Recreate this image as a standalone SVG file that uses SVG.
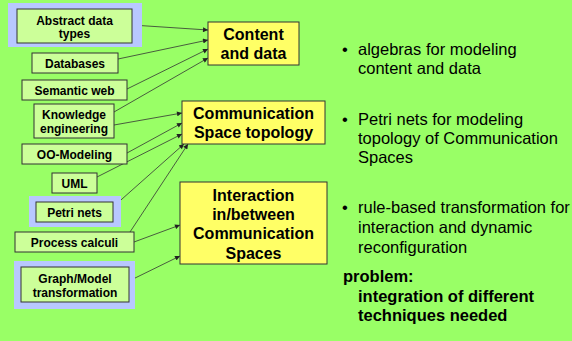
<svg xmlns="http://www.w3.org/2000/svg" width="572" height="341" viewBox="0 0 572 341">
<defs>
<style>
.hl{fill:#B8C8FF;stroke:none}
.src{fill:#CCFF99;stroke:#333333;stroke-width:1}
.tgt{fill:#FFFF66;stroke:#333333;stroke-width:1}
.sl{font-family:"Liberation Sans",Arial,sans-serif;font-weight:bold;font-size:12px;fill:#000;text-anchor:middle}
.tl{font-family:"Liberation Sans",Arial,sans-serif;font-weight:bold;font-size:16px;fill:#000;text-anchor:middle}
.bt{font-family:"Liberation Sans",Arial,sans-serif;font-size:16.5px;fill:#000}
.pb{font-family:"Liberation Sans",Arial,sans-serif;font-size:16.5px;font-weight:bold;fill:#000}
.cn{stroke:#333333;stroke-width:0.8;fill:none;marker-end:url(#ah)}
</style>
<marker id="ah" viewBox="0 0 10 10" refX="10" refY="5" markerWidth="7" markerHeight="5" markerUnits="userSpaceOnUse" orient="auto">
<path d="M0,0 L10,5 L0,10 z" fill="#222222"/>
</marker>
</defs>
<rect x="0" y="0" width="572" height="341" fill="#99FF66"/>

<g id="connectors">
<line class="cn" x1="132" y1="25" x2="208" y2="30"/>
<line class="cn" x1="118" y1="59" x2="208" y2="40"/>
<line class="cn" x1="127" y1="89" x2="208" y2="49"/>
<line class="cn" x1="114" y1="112" x2="208" y2="58"/>
<line class="cn" x1="114" y1="125" x2="182" y2="113"/>
<line class="cn" x1="127" y1="153" x2="182" y2="123"/>
<line class="cn" x1="97" y1="177" x2="182" y2="134"/>
<line class="cn" x1="113" y1="207" x2="184" y2="144"/>
<line class="cn" x1="130" y1="232" x2="188" y2="144"/>
<line class="cn" x1="134" y1="242" x2="180" y2="225"/>
<line class="cn" x1="129" y1="281" x2="180" y2="256"/>
</g>

<g id="adt">
<rect class="hl" x="8" y="3" width="134" height="44"/>
<rect class="src" x="17" y="9" width="115" height="34"/>
<text class="sl" x="74.5" y="24.5">Abstract data</text>
<text class="sl" x="74.5" y="38">types</text>
</g>
<g id="databases">
<rect class="src" x="32" y="53" width="86" height="20"/>
<text class="sl" x="75" y="67.5">Databases</text>
</g>
<g id="semweb">
<rect class="src" x="22" y="80" width="105" height="20"/>
<text class="sl" x="74.5" y="94.5">Semantic web</text>
</g>
<g id="knowledge">
<rect class="src" x="34" y="104" width="80" height="34"/>
<text class="sl" x="74" y="119">Knowledge</text>
<text class="sl" x="74" y="132.5">engineering</text>
</g>
<g id="oomodeling">
<rect class="src" x="22" y="144" width="105" height="20"/>
<text class="sl" x="74.5" y="158.5">OO-Modeling</text>
</g>
<g id="uml">
<rect class="src" x="52" y="173" width="45" height="20"/>
<text class="sl" x="74.5" y="187.5">UML</text>
</g>
<g id="petri">
<rect class="hl" x="29" y="196" width="92" height="31"/>
<rect class="src" x="36" y="202" width="77" height="20"/>
<text class="sl" x="74.5" y="216.5">Petri nets</text>
</g>
<g id="process">
<rect class="src" x="15" y="232" width="119" height="20"/>
<text class="sl" x="74.5" y="246.5">Process calculi</text>
</g>
<g id="graph">
<rect class="hl" x="14" y="261" width="121" height="48"/>
<rect class="src" x="21" y="267" width="108" height="35"/>
<text class="sl" x="75" y="282.5">Graph/Model</text>
<text class="sl" x="75" y="297">transformation</text>
</g>

<g id="content">
<rect class="tgt" x="208" y="22" width="91" height="43"/>
<text class="tl" x="253.5" y="40">Content</text>
<text class="tl" x="253.5" y="59">and data</text>
</g>
<g id="commspace">
<rect class="tgt" x="182" y="101" width="143" height="43"/>
<text class="tl" x="253.5" y="119">Communication</text>
<text class="tl" x="253.5" y="138">Space topology</text>
</g>
<g id="interaction">
<rect class="tgt" x="180" y="182" width="147" height="82"/>
<text class="tl" x="253.5" y="201">Interaction</text>
<text class="tl" x="253.5" y="220">in/between</text>
<text class="tl" x="253.5" y="239">Communication</text>
<text class="tl" x="253.5" y="258.5">Spaces</text>
</g>

<g id="notes">
<text class="bt" x="342" y="55">•</text>
<text class="bt" x="358" y="55">algebras for modeling</text>
<text class="bt" x="358" y="74">content and data</text>
<text class="bt" x="342" y="125">•</text>
<text class="bt" x="358" y="125">Petri nets for modeling</text>
<text class="bt" x="358" y="144">topology of Communication</text>
<text class="bt" x="358" y="163">Spaces</text>
<text class="bt" x="342" y="213">•</text>
<text class="bt" x="358" y="213">rule-based transformation for</text>
<text class="bt" x="358" y="233">interaction and dynamic</text>
<text class="bt" x="358" y="253">reconfiguration</text>
<text class="pb" x="343" y="282">problem:</text>
<text class="pb" x="358" y="302">integration of different</text>
<text class="pb" x="358" y="321">techniques needed</text>
</g>
</svg>
